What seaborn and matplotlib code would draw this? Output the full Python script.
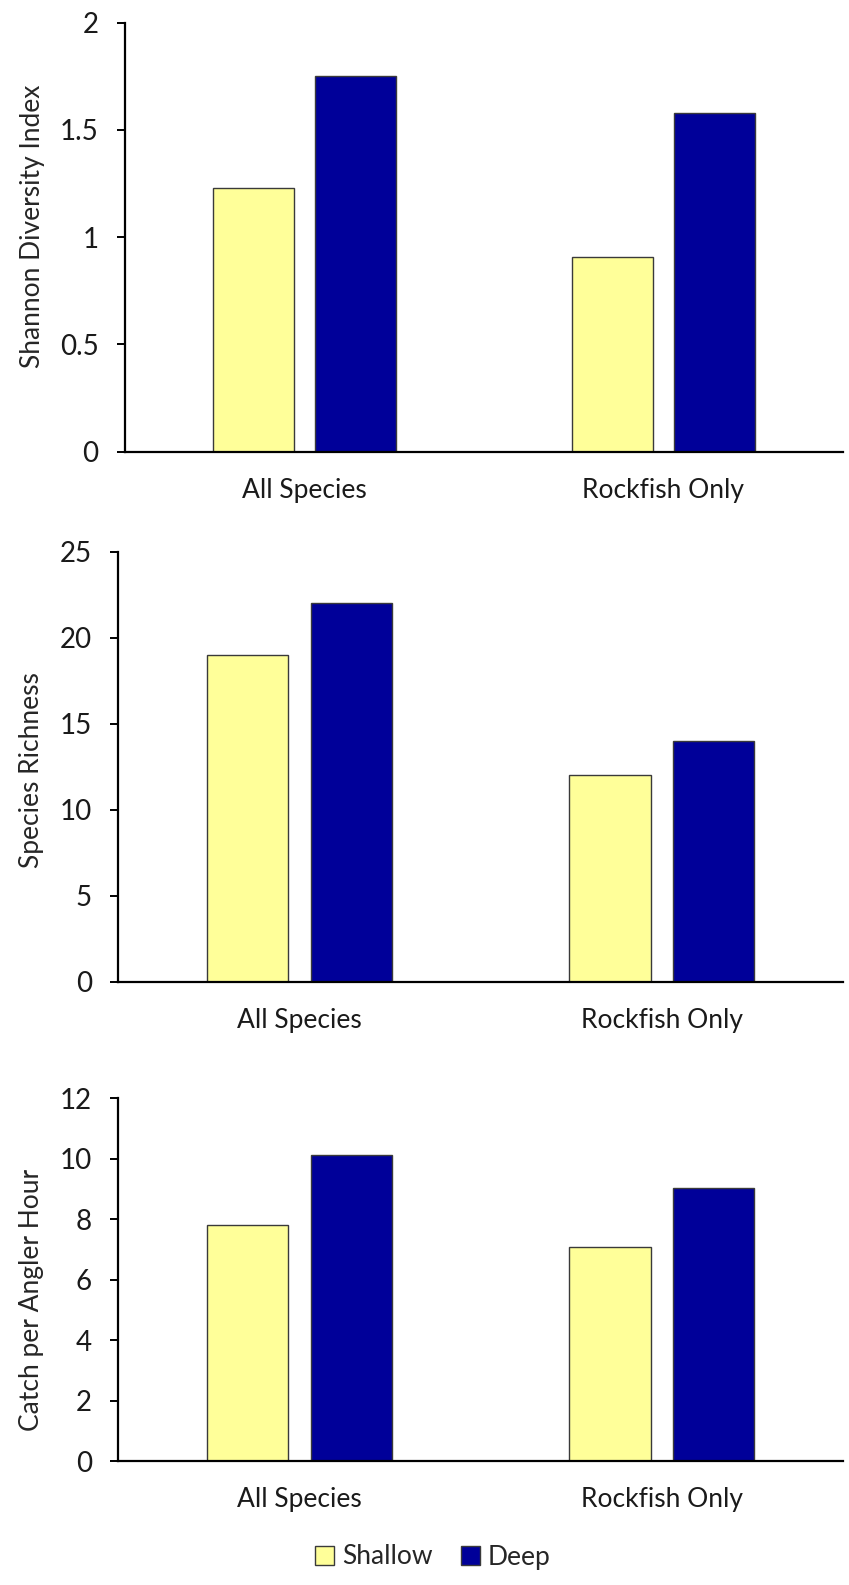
import numpy as np
import pandas as pd
import matplotlib
matplotlib.use("Agg")
import matplotlib.pyplot as plt
from matplotlib.ticker import FuncFormatter
from matplotlib.patches import Patch
import seaborn as sns

# Survey results by depth zone
groups = ["All Species", "Rockfish Only"]
depths = ["Shallow", "Deep"]

shannon_shallow = [1.23, 0.91]
shannon_deep = [1.75, 1.58]

richness_shallow = [19, 12]
richness_deep = [22, 14]

cpue_shallow = [7.82, 7.08]
cpue_deep = [10.12, 9.03]

colors = {"Shallow": "#FFFF99", "Deep": "#000099"}

sns.set_theme(style="white")
plt.rcParams["font.family"] = ["Lato", "DejaVu Sans"]

fig = plt.figure(figsize=(8.49, 15.85), dpi=100)

W, H = 849.0, 1585.0


def frame(left, right, top, bottom):
    return [left / W, 1 - bottom / H, (right - left) / W, (bottom - top) / H]


panels = [
    (frame(125, 843, 22.7, 451.7), shannon_shallow, shannon_deep,
     "Shannon Diversity Index", 2, [0, 0.5, 1, 1.5, 2], 0.525),
    (frame(118.3, 843, 551.7, 981.7), richness_shallow, richness_deep,
     "Species Richness", 25, [0, 5, 10, 15, 20, 25], 0.492),
    (frame(118.3, 843, 1098.3, 1461), cpue_shallow, cpue_deep,
     "Catch per Angler Hour", 12, [0, 2, 4, 6, 8, 10, 12], 0.445),
]

for rect, shallow, deep, ylabel, ymax, yticks, label_y in panels:
    ax = fig.add_axes(rect)
    df = pd.DataFrame({
        "group": groups * 2,
        "depth": ["Shallow"] * len(groups) + ["Deep"] * len(groups),
        "value": list(shallow) + list(deep),
    })
    sns.barplot(data=df, x="group", y="value", hue="depth",
                hue_order=depths, order=groups, palette=colors,
                width=0.572, gap=0.213, saturation=1,
                edgecolor="#3a3a3a", linewidth=1.0, legend=False, ax=ax)
    ax.set_xlim(-0.5, 1.5)
    ax.set_ylim(0, ymax)
    ax.set_yticks(yticks)
    ax.yaxis.set_major_formatter(FuncFormatter(lambda v, p: f"{v:g}"))
    ax.set_xlabel("")
    ax.set_ylabel(ylabel, fontsize=19, labelpad=11)
    ax.yaxis.label.set_y(label_y)
    for s in ["top", "right"]:
        ax.spines[s].set_visible(False)
    for s in ["left", "bottom"]:
        ax.spines[s].set_color("black")
        ax.spines[s].set_linewidth(1.6)
    ax.tick_params(axis="y", left=True, length=6, width=1.4, color="black",
                   pad=13, labelsize=20, labelcolor="#1a1a1a")
    ax.tick_params(axis="x", bottom=False, length=0, pad=19, labelsize=19,
                   labelcolor="#1a1a1a")

handles = [Patch(facecolor=colors[d], edgecolor="#3a3a3a", linewidth=1.0, label=d)
           for d in depths]
fig.legend(handles=handles, loc="center", bbox_to_anchor=(433 / W, 1 - 1557 / H),
           ncol=2, frameon=False, fontsize=19, handlelength=0.7,
           handleheight=0.7, handletextpad=0.3, columnspacing=1.1)

fig.savefig("out.png", dpi=100, facecolor="white")
